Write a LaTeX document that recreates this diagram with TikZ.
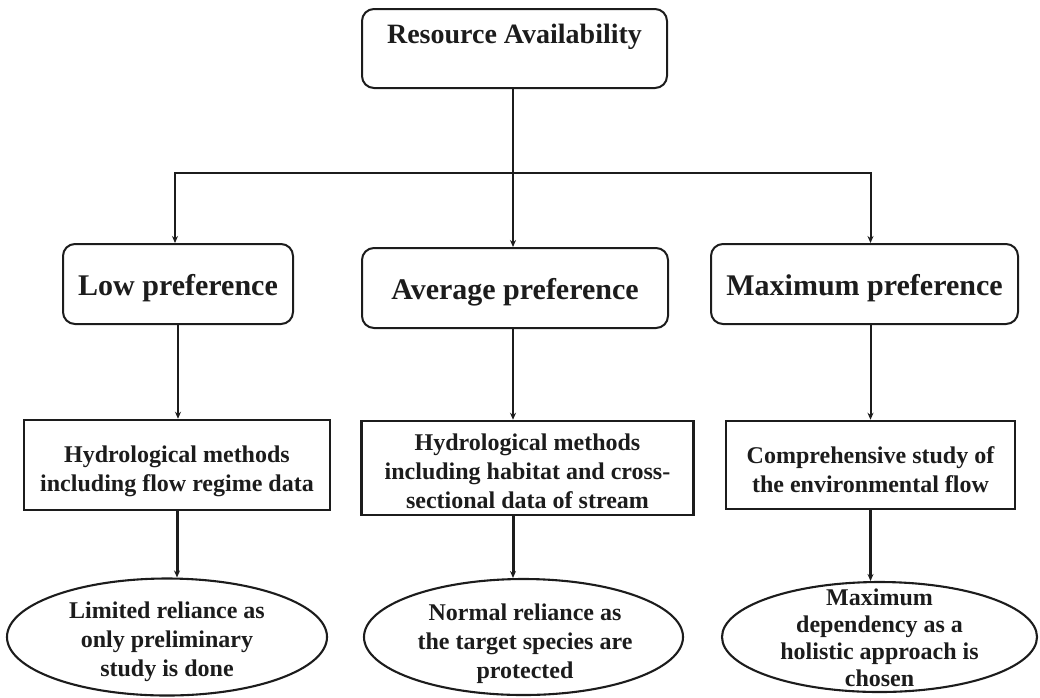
\documentclass[tikz,border=0pt]{standalone}
\usepackage{fontspec}
\setmainfont{Liberation Serif}
\usetikzlibrary{arrows.meta,shapes.geometric}
\definecolor{ink}{RGB}{28,28,28}
\begin{document}
\begin{tikzpicture}[x=1pt,y=-1pt,
  every node/.style={text=ink,font=\bfseries},
  headbox/.style={draw=ink,line width=2pt,rounded corners=12pt,inner sep=0pt},
  prefbox/.style={draw=ink,line width=2pt,rounded corners=12pt,inner sep=0pt,
    text height=51pt,text depth=29pt,anchor=north,
    font=\fontsize{30}{34}\selectfont\bfseries},
  methodbox/.style={draw=ink,line width=2.5pt,inner sep=0pt},
  outcome/.style={draw=ink,ellipse,line width=2.1pt,inner sep=0pt},
  caption/.style={inner sep=0pt,align=center,font=\fontsize{24}{29}\selectfont\bfseries},
  link/.style={draw=ink,line width=2pt},
  thinarrow/.style={link,-{Stealth[length=7pt,width=6pt]}},
  thickarrow/.style={draw=ink,line width=3pt,-{Stealth[length=7pt,width=6pt]}}]
\useasboundingbox (0,0) rectangle (1040,697);

% head of the tree
\node[headbox,minimum width=305pt,text height=34pt,text depth=45pt,anchor=north,
  font=\fontsize{28}{32}\selectfont\bfseries] (top) at (514.5,8) {Resource Availability};

% preference levels
\node[prefbox,minimum width=230pt] (low) at (178,243) {Low preference};
\node[prefbox,minimum width=306pt] (avg) at (515,247) {Average preference};
\node[prefbox,minimum width=307pt] (max) at (864.5,243) {Maximum preference};

% methods
\node[methodbox,minimum width=306pt,minimum height=90pt] (m1) at (177,465) {};
\node[methodbox,minimum width=332pt,minimum height=94pt] (m2) at (527.5,468) {};
\node[methodbox,minimum width=289pt,minimum height=88pt] (m3) at (870.5,465) {};
\node[caption] (m1t) at (177,471) {Hydrological methods\\including flow regime data};
\node[caption] (m2t) at (527.5,471) {Hydrological methods\\including habitat and cross-\\sectional data of stream};
\node[caption] (m3t) at (870.5,470) {Comprehensive study of\\the environmental flow};

% outcomes
\node[outcome,minimum width=320pt,minimum height=117pt] (o1) at (167,637) {};
\node[outcome,minimum width=319pt,minimum height=116pt] (o2) at (523.5,637) {};
\node[outcome,minimum width=315pt,minimum height=110pt] (o3) at (879.5,637) {};
\node[caption] (o1t) at (167,642) {Limited reliance as\\only preliminary\\study is done};
\node[caption] (o2t) at (525,644) {Normal reliance as\\the target species are\\protected};
\node[caption,font=\fontsize{24}{27}\selectfont\bfseries] (o3t) at (879.5,638)
  {Maximum\\dependency as a\\holistic approach is\\chosen};

% branching connector
\coordinate (j) at (513,173);
\draw[link] (top.south -| j) -- (j);
\draw[thinarrow] (j) -| ([xshift=-3pt]low.north);
\draw[thinarrow] (j) -- (j |- avg.north);
\draw[thinarrow] (j) -| (max.north -| m3.north);

% preference to method
\draw[thinarrow] (low.south) -- (low.south |- m1.north);
\draw[thinarrow] (avg.south -| j) -- (j |- m2.north);
\draw[thinarrow] (max.south -| m3.north) -- (m3.north);

% method to outcome
\draw[thickarrow] (m1.south) -- (m1.south |- o1.north);
\draw[thickarrow] (m2.south -| j) -- (j |- o2.north);
\draw[thickarrow] (m3.south) -- (m3.south |- o3.north);
\end{tikzpicture}
\end{document}
